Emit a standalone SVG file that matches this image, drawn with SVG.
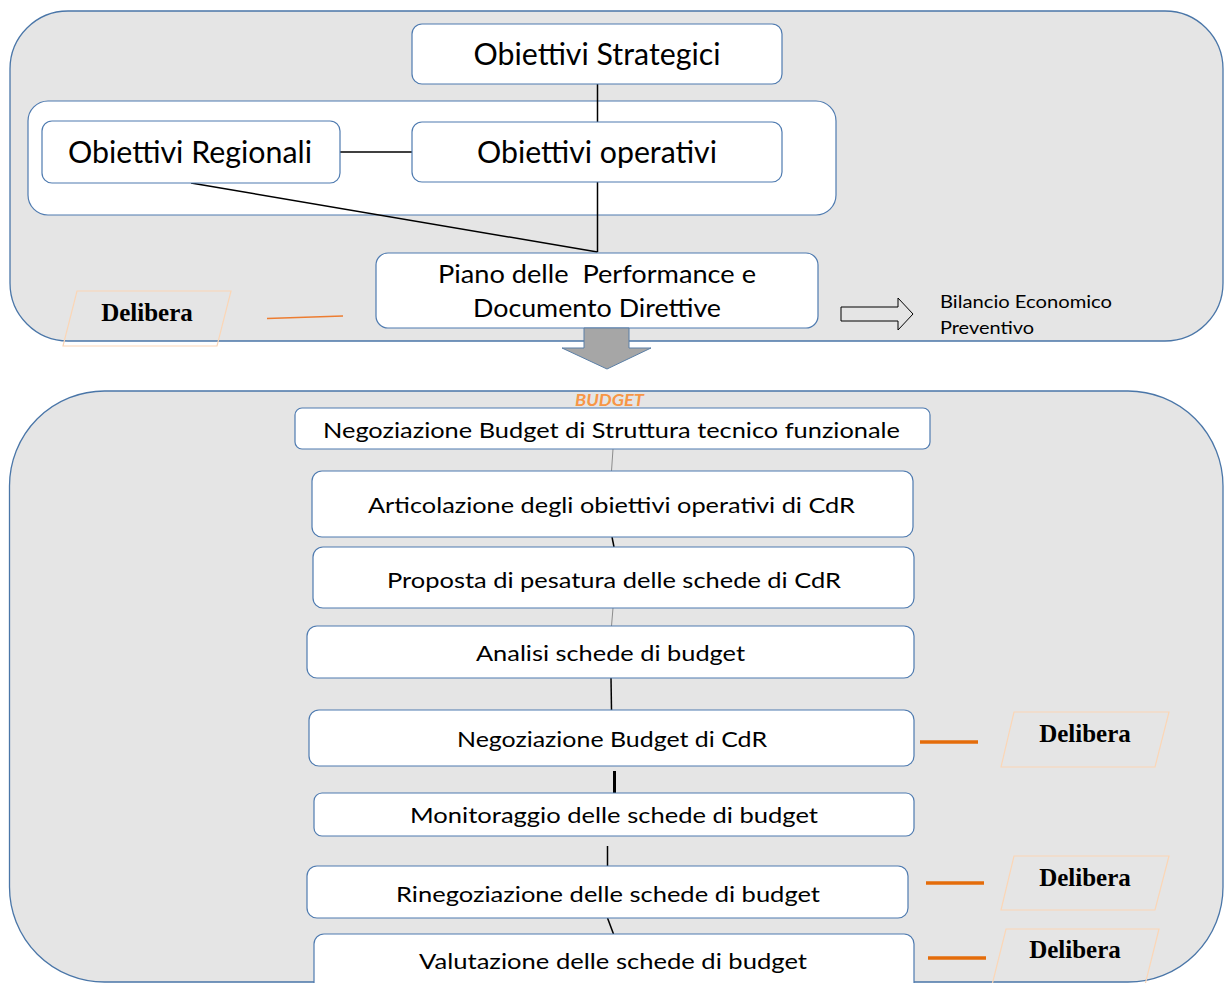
<svg xmlns="http://www.w3.org/2000/svg" width="1224" height="983" viewBox="0 0 1224 983">
<style>
.cont{fill:#e5e5e5;stroke:#4a76a8;stroke-width:1.3}
.box{fill:#ffffff;stroke:#4f7bb0;stroke-width:1.2}
.t{font-family:Lato,"Liberation Sans",Arial,sans-serif;fill:#000;text-anchor:middle}
.ts{font-family:Lato,"Liberation Sans",Arial,sans-serif;fill:#000;text-anchor:start}
.del{font-family:"Liberation Serif","Times New Roman",serif;font-weight:bold;font-size:25px;fill:#000;text-anchor:middle}
.para{fill:none;stroke:#fbd6b6;stroke-width:1.2}
.ln{stroke:#000;stroke-width:1.5;fill:none}
.lg{stroke:#8c8c8c;stroke-width:1;fill:none}
.or{stroke:#e46c0a;stroke-width:3.5;fill:none}
</style>
<g id="top-container">
<rect class="cont" x="10" y="11" width="1213" height="330" rx="58" ry="58"/>
</g>
<g id="bottom-container">
<rect class="cont" x="9.5" y="391" width="1213.5" height="591" rx="95" ry="95"/>
</g>
<g id="group-operativi">
<rect x="28" y="101" width="808" height="114" rx="20" ry="20" fill="#fff" stroke="#4f7bb0" stroke-width="1.2"/>
</g>
<g id="connectors">
<line class="ln" x1="597.5" y1="84" x2="597.5" y2="122"/>
<line class="ln" x1="340" y1="152" x2="412" y2="152"/>
<line class="ln" x1="597.5" y1="182" x2="597.5" y2="252"/>
<line class="ln" x1="191" y1="183" x2="597.5" y2="252"/>
<line x1="267" y1="318.5" x2="343" y2="316" stroke="#ed7d31" stroke-width="1.5"/>
<line class="lg" x1="613" y1="449" x2="611.5" y2="471"/>
<line class="ln" x1="612" y1="537" x2="614" y2="547"/>
<line class="lg" x1="613" y1="608" x2="611.5" y2="626"/>
<line class="ln" x1="611" y1="678" x2="611.5" y2="710"/>
<line x1="614.5" y1="771" x2="614.5" y2="793" stroke="#000" stroke-width="3"/>
<line class="ln" x1="607.5" y1="846" x2="607.5" y2="866"/>
<line class="ln" x1="607.5" y1="918" x2="613.5" y2="934"/>
<line class="or" x1="920" y1="742" x2="978" y2="742"/>
<line class="or" x1="926" y1="883" x2="984" y2="883"/>
<line class="or" x1="928" y1="958" x2="986" y2="958"/>
</g>
<g id="obiettivi-strategici">
<rect class="box" x="412" y="24" width="370" height="60" rx="10" ry="10"/>
<text class="t" x="597" y="65" font-size="30" textLength="247" lengthAdjust="spacingAndGlyphs">Obiettivi Strategici</text>
</g>
<g id="obiettivi-regionali">
<rect class="box" x="42" y="121" width="298" height="62" rx="10" ry="10"/>
<text class="t" x="190" y="163" font-size="30" textLength="244" lengthAdjust="spacingAndGlyphs">Obiettivi Regionali</text>
</g>
<g id="obiettivi-operativi">
<rect class="box" x="412" y="122" width="370" height="60" rx="10" ry="10"/>
<text class="t" x="597" y="163" font-size="30" textLength="240" lengthAdjust="spacingAndGlyphs">Obiettivi operativi</text>
</g>
<g id="piano-performance">
<rect class="box" x="376" y="253" width="442" height="75" rx="12" ry="12"/>
<text class="t" x="597" y="283" font-size="25" textLength="318" lengthAdjust="spacingAndGlyphs" xml:space="preserve">Piano delle  Performance e</text>
<text class="t" x="597" y="317" font-size="25" textLength="248" lengthAdjust="spacingAndGlyphs">Documento Direttive</text>
</g>
<g id="delibera-top">
<polygon class="para" points="77,291 231,291 217,346 63,346"/>
<text class="del" x="147" y="321">Delibera</text>
</g>
<g id="bilancio">
<polygon points="841,307 898,307 898,298 913,314 898,330 898,321 841,321" fill="none" stroke="#000" stroke-width="1"/>
<text class="ts" x="940" y="308" font-size="18" textLength="172" lengthAdjust="spacingAndGlyphs">Bilancio Economico</text>
<text class="ts" x="940" y="334" font-size="18" textLength="94" lengthAdjust="spacingAndGlyphs">Preventivo</text>
</g>
<g id="down-arrow">
<polygon points="584,328 629,328 629,348 651,348 607,369 562,348 584,348" fill="#a6a6a6" stroke="#5b7fa6" stroke-width="1"/>
</g>
<g id="budget-label">
<text x="609.5" y="406" font-family="Lato,Liberation Sans,Arial,sans-serif" font-size="17" font-weight="bold" font-style="italic" fill="#f79646" text-anchor="middle" textLength="69" lengthAdjust="spacingAndGlyphs">BUDGET</text>
</g>
<g id="neg-struttura">
<rect class="box" x="295" y="408" width="635" height="41" rx="7" ry="7"/>
<text class="t" x="611.5" y="438" font-size="22" textLength="577" lengthAdjust="spacingAndGlyphs">Negoziazione Budget di Struttura tecnico funzionale</text>
</g>
<g id="articolazione">
<rect class="box" x="312" y="471" width="601" height="66" rx="10" ry="10"/>
<text class="t" x="611.5" y="513" font-size="22" textLength="487" lengthAdjust="spacingAndGlyphs">Articolazione degli obiettivi operativi di CdR</text>
</g>
<g id="proposta">
<rect class="box" x="313" y="547" width="601" height="61" rx="10" ry="10"/>
<text class="t" x="614" y="588" font-size="22" textLength="454" lengthAdjust="spacingAndGlyphs">Proposta di pesatura delle schede di CdR</text>
</g>
<g id="analisi">
<rect class="box" x="307" y="626" width="607" height="52" rx="10" ry="10"/>
<text class="t" x="610.5" y="661" font-size="22" textLength="269" lengthAdjust="spacingAndGlyphs">Analisi schede di budget</text>
</g>
<g id="neg-cdr">
<rect class="box" x="309" y="710" width="605" height="56" rx="10" ry="10"/>
<text class="t" x="612" y="747" font-size="22" textLength="310" lengthAdjust="spacingAndGlyphs">Negoziazione Budget di CdR</text>
</g>
<g id="monitoraggio">
<rect class="box" x="314" y="793" width="600" height="43" rx="8" ry="8"/>
<text class="t" x="614" y="823" font-size="22" textLength="408" lengthAdjust="spacingAndGlyphs">Monitoraggio delle schede di budget</text>
</g>
<g id="rinegoziazione">
<rect class="box" x="307" y="866" width="601" height="52" rx="10" ry="10"/>
<text class="t" x="608" y="902" font-size="22" textLength="424" lengthAdjust="spacingAndGlyphs">Rinegoziazione delle schede di budget</text>
</g>
<g id="valutazione">
<rect class="box" x="314" y="934" width="600" height="60" rx="10" ry="10"/>
<text class="t" x="613" y="969" font-size="22" textLength="388" lengthAdjust="spacingAndGlyphs">Valutazione delle schede di budget</text>
</g>
<g id="delibera-1">
<polygon class="para" points="1014,712 1169,712 1155,767 1001,767"/>
<text class="del" x="1085" y="742">Delibera</text>
</g>
<g id="delibera-2">
<polygon class="para" points="1014,856 1169,856 1155,910 1001,910"/>
<text class="del" x="1085" y="886">Delibera</text>
</g>
<g id="delibera-3">
<polygon class="para" points="1006,929 1159,929 1145,985 992,985"/>
<text class="del" x="1075" y="958">Delibera</text>
</g>
</svg>
